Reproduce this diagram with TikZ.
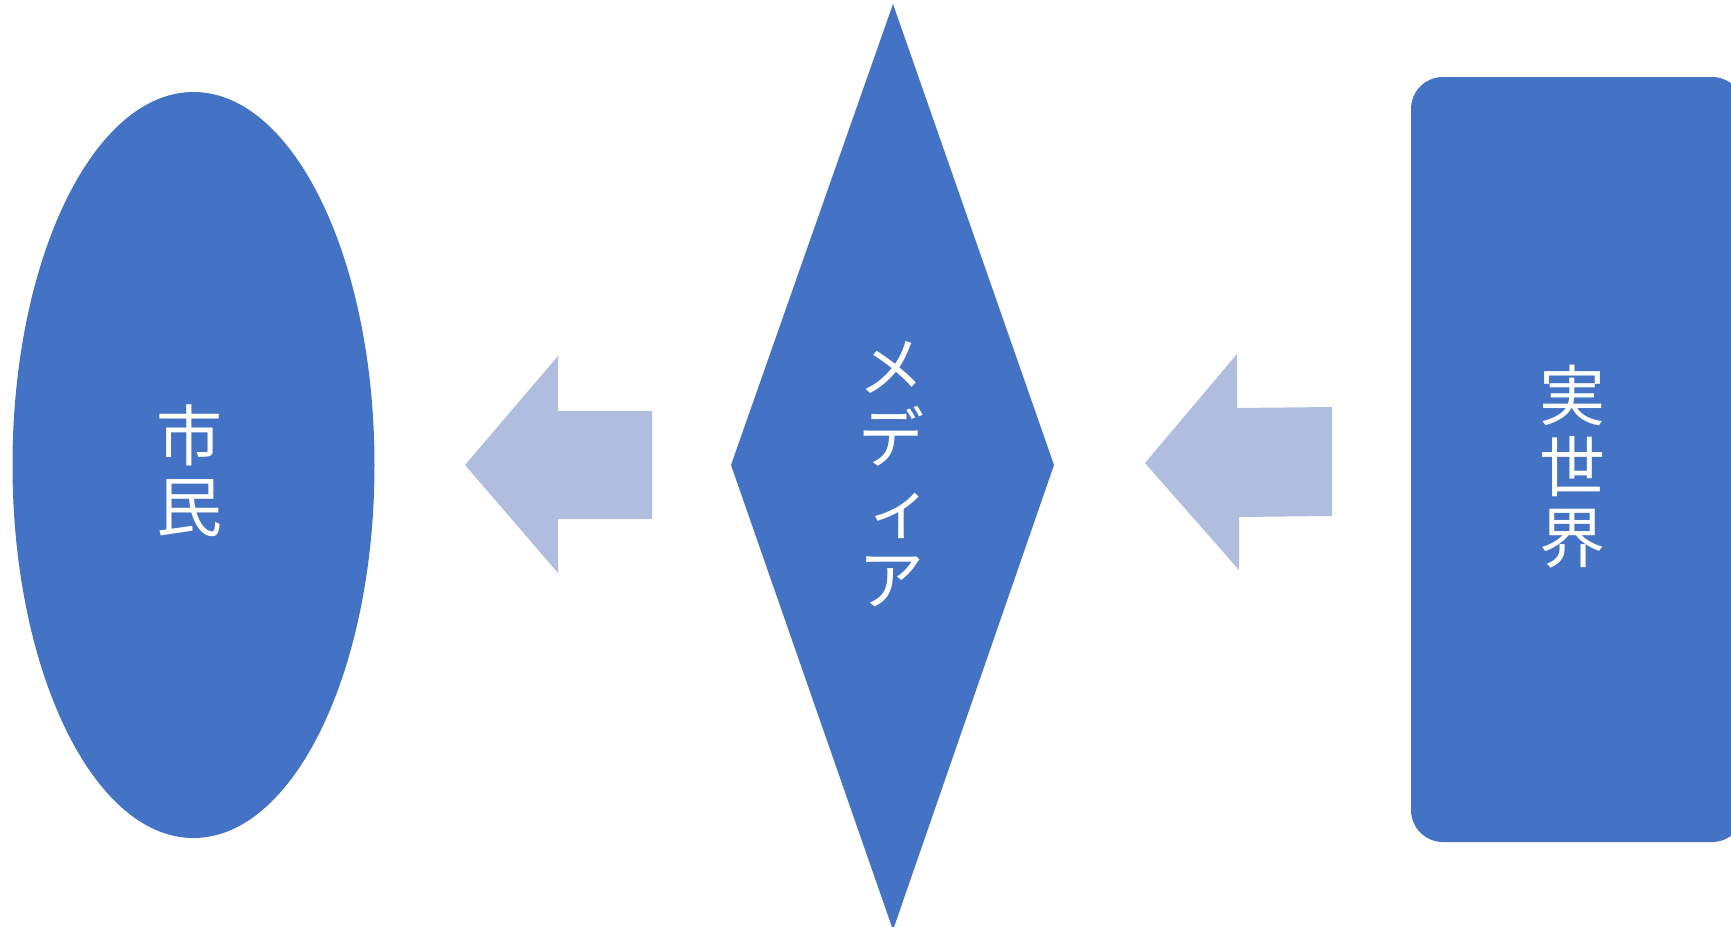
\documentclass[tikz,border=0pt]{standalone}
\usepackage{fontspec}
\newfontfamily\jpfont{Noto Sans CJK JP}
\usetikzlibrary{positioning}
\definecolor{mainblue}{HTML}{4472C4}
\definecolor{arrowblue}{HTML}{B0BDDE}
\tikzset{
  shp/.style={fill=mainblue,draw=none},
  bigarr/.style={fill=arrowblue,draw=none},
  vtxt/.style={text=white,align=center,inner sep=0pt,font=\jpfont\fontsize{33}{35.5}\selectfont}
}

\begin{document}
\begin{tikzpicture}[x=0.5pt,y=-0.5pt]
  \useasboundingbox (0,0) rectangle (1731,927);
  \clip (0,0) rectangle (1731,927);

  % shapes
  \fill[shp] (193.5,465) ellipse [x radius=181, y radius=373];
  \fill[shp] (893,4) -- (1054,465) -- (893,930) -- (731,465) -- cycle;
  \fill[shp,rounded corners=16pt] (1411,77) rectangle (1744,842);

  % block arrows
  \fill[bigarr] (465,465) -- (558,356) -- (558,411) -- (652,411)
    -- (652,519) -- (558,519) -- (558,573) -- cycle;
  \fill[bigarr] (1145,463) -- (1237,354) -- (1237,408) -- (1332,407)
    -- (1332,516) -- (1239,517) -- (1239,570) -- cycle;

  % labels
  \node[vtxt] (citizen) at (189,471) {市\\民};
  \node[vtxt] (media) at (891,474) {メ\\デ\\\kern0.3emィ\\ア};
  \node[vtxt] (world) at (1572,467) {実\\世\\界};
\end{tikzpicture}
\end{document}
